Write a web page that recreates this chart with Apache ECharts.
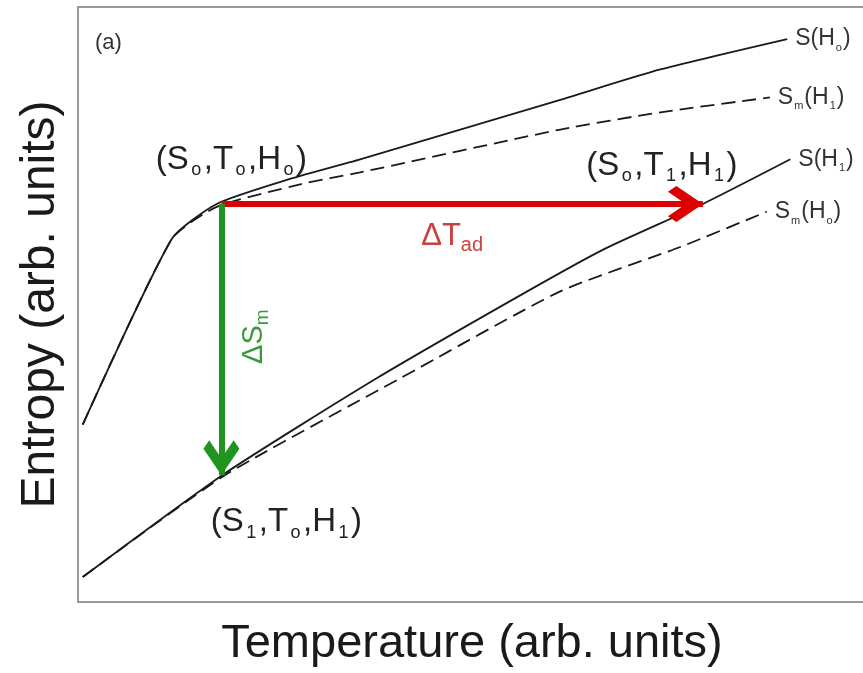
<!DOCTYPE html>
<html>
<head>
<meta charset="utf-8">
<title>Entropy vs Temperature</title>
<script src="https://cdn.jsdelivr.net/npm/echarts@6/dist/echarts.min.js"></script>
<style>
    html, body { margin: 0; padding: 0; background: #fff; overflow: hidden; }
    #entropy_content { width: 875px; height: 673px; }
</style>
</head>
<body>
<div id="entropy_content"></div>
<script>
// curves: [temperature, entropy] in arb. units (0-100)
var curveSH0 = [[0.6, 29.8], [11.9, 61.0], [17.6, 66.9], [26.9, 71.1], [35.8, 74.4], [61.2, 84.4], [73.9, 89.5], [90.0, 94.6]];
var curveSmH1 = [[0.6, 29.8], [11.9, 61.0], [17.6, 66.4], [28.2, 70.2], [35.8, 72.2], [61.2, 79.4], [73.9, 82.3], [87.8, 84.8]];
var curveSH1 = [[0.6, 4.2], [18.4, 21.4], [37.9, 37.6], [57.4, 52.5], [66.9, 59.4], [79.3, 66.9], [90.4, 74.4]];
var curveSmH0 = [[0.6, 4.2], [18.4, 21.1], [40.9, 37.6], [61.2, 52.2], [76.5, 59.7], [87.4, 65.6]];

// state points
var T0 = 18.2, T1 = 79.3;
var S0 = 66.9, S1 = 21.3;

var FONT = '"Liberation Sans", Arial, sans-serif';
// open arrow head, tip at the centre of its box
var CHEVRON = 'path://M50,0 L50,0 Z M50,100 L100,150 L84,166 L50,132 L16,166 L0,150 Z M50,200 L50,200 Z';

function EntropyChart(){

}
EntropyChart.prototype.init = function(){
    this.loadChart();
}
EntropyChart.prototype.richText = function(big, small, color, subPad){
    return {
        b: { fontSize: big, color: color, fontFamily: FONT, lineHeight: big + 6 },
        s: { fontSize: small, color: color, fontFamily: FONT, lineHeight: small, verticalAlign: 'bottom', padding: [0, subPad || 0, 0, subPad || 0] }
    };
}
EntropyChart.prototype.curve = function(name, data, dashed, endText){
    return {
        name: name,
        type: 'line',
        data: data,
        symbol: 'none',
        smooth: 0.2,
        silent: true,
        lineStyle: {
            color: '#1a1a1a',
            width: 1.8,
            type: dashed ? [14, 7] : 'solid'
        },
        endLabel: {
            show: true,
            distance: 8,
            formatter: endText,
            rich: this.richText(23, 11, '#333', 1)
        }
    };
}
EntropyChart.prototype.loadChart = function(){
    var chartInstance = echarts.init(document.getElementById('entropy_content'));
    var stateRich = this.richText(33, 18, '#222', 2.5);
    var option = {
        animation: false,
        backgroundColor: '#fff',
        grid: {
            left: 78,
            right: 9,
            top: 7,
            bottom: 68,
            show: true,
            borderColor: '#9a9a9a',
            borderWidth: 2
        },
        xAxis: {
            type: 'value',
            min: 0,
            max: 100,
            name: 'Temperature (arb. units)',
            nameLocation: 'middle',
            nameGap: 19,
            nameTextStyle: { fontSize: 47, color: '#1a1a1a', fontFamily: FONT },
            axisLine: { show: false },
            axisTick: { show: false },
            axisLabel: { show: false },
            splitLine: { show: false }
        },
        yAxis: {
            type: 'value',
            min: 0,
            max: 100,
            name: 'Entropy (arb. units)',
            nameLocation: 'middle',
            nameGap: 13,
            nameTextStyle: { fontSize: 48, color: '#1a1a1a', fontFamily: FONT },
            axisLine: { show: false },
            axisTick: { show: false },
            axisLabel: { show: false },
            splitLine: { show: false }
        },
        graphic: [{
            type: 'text',
            left: 95,
            top: 32,
            style: { text: '(a)', fontSize: 22, fill: '#333', fontFamily: FONT }
        }],
        series: [
            this.curve('S(H0)', curveSH0, false, '{b|S(H}{s|o}{b|)}'),
            this.curve('Sm(H1)', curveSmH1, true, '{b|S}{s|m}{b|(H}{s|1}{b|)}'),
            this.curve('S(H1)', curveSH1, false, '{b|S(H}{s|1}{b|)}'),
            this.curve('Sm(H0)', curveSmH0, true, '{b|S}{s|m}{b|(H}{s|o}{b|)}'),
            {
                // arrows ΔT_ad and ΔS_m
                name: 'arrows',
                type: 'line',
                data: [],
                silent: true,
                markLine: {
                    silent: true,
                    label: { show: false },
                    emphasis: { disabled: true },
                    data: [
                        [{ coord: [T0, S0], symbol: 'none', lineStyle: { color: '#dd0000', width: 6, type: 'solid' } },
                         { coord: [T1, S0], symbol: CHEVRON, symbolSize: [36, 106] }],
                        [{ coord: [T0, S0], symbol: 'none', lineStyle: { color: '#1f951f', width: 6, type: 'solid' } },
                         { coord: [T0, S1], symbol: CHEVRON, symbolSize: [36, 106] }]
                    ]
                }
            },
            {
                // state and arrow labels
                name: 'labels',
                type: 'scatter',
                symbolSize: 1,
                silent: true,
                itemStyle: { color: 'rgba(0,0,0,0)', opacity: 1 },
                data: [
                    { value: [T0, S0], label: { show: true, position: 'inside', offset: [10, -44], formatter: '{b|(S}{s|o}{b|,T}{s|o}{b|,H}{s|o}{b|)}', rich: stateRich } },
                    { value: [T1, S0], label: { show: true, position: 'inside', offset: [-41, -38], formatter: '{b|(S}{s|o}{b|,T}{s|1}{b|,H}{s|1}{b|)}', rich: stateRich } },
                    { value: [T0, S1], label: { show: true, position: 'inside', offset: [65, 47], formatter: '{b|(S}{s|1}{b|,T}{s|o}{b|,H}{s|1}{b|)}', rich: stateRich } },
                    { value: [(T0 + T1) / 2, S0], label: { show: true, position: 'inside', offset: [-10, 33], formatter: '{b|ΔT}{s|ad}', rich: this.richText(31, 20, '#cc4040') } },
                    { value: [T0, (S0 + S1) / 2], label: { show: true, position: 'inside', offset: [3, 33], rotate: 90, formatter: '{b|ΔS}{s|m}', rich: this.richText(29, 19, '#3a9a3a') } }
                ]
            }
        ]
    };
    chartInstance.setOption(option, true);
    window.onresize = function(){
        chartInstance.resize();
    }
}
var start_entropy = new EntropyChart();
start_entropy.init();
</script>
</body>
</html>
